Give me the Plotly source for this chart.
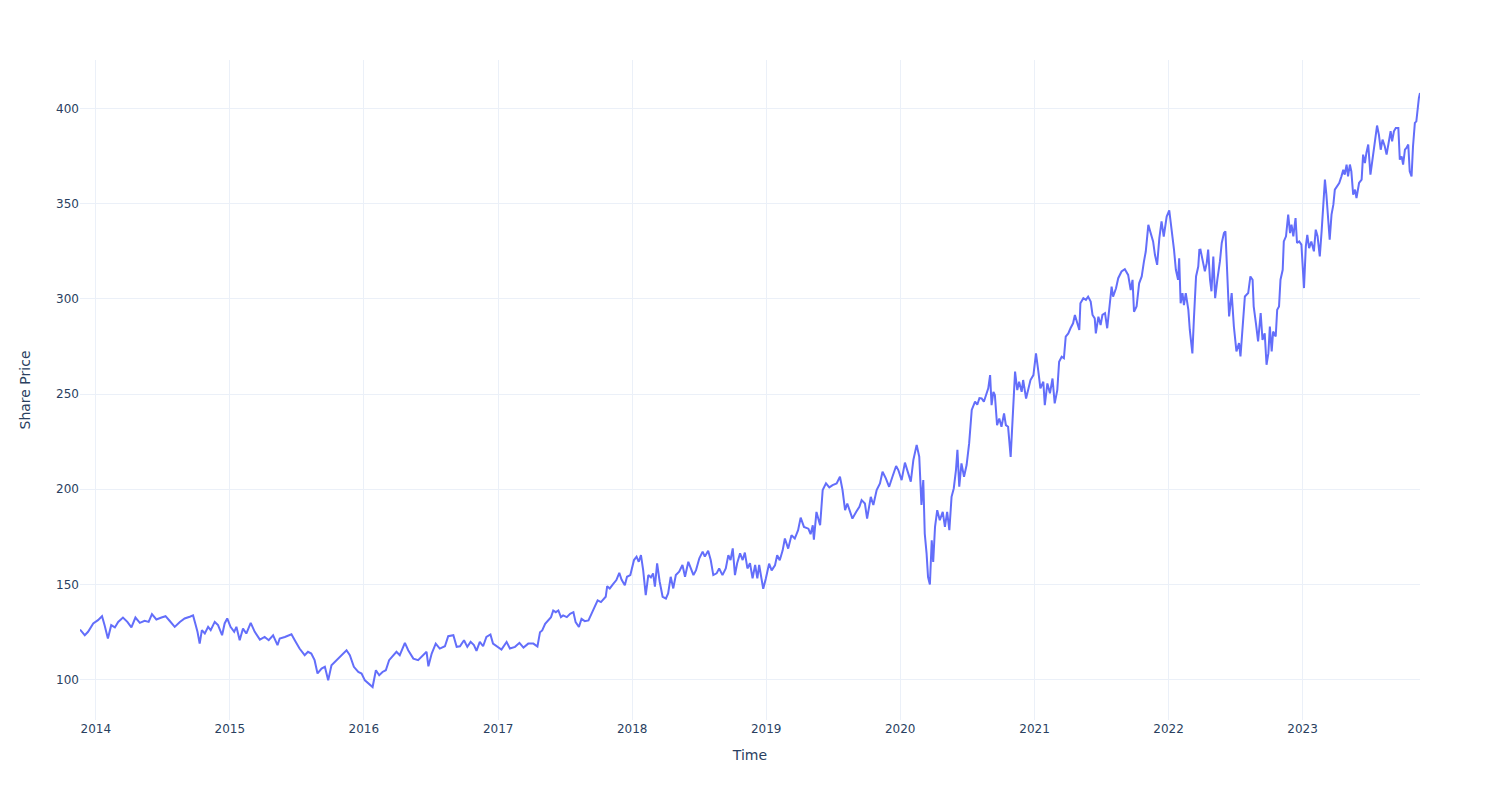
import plotly.graph_objects as go

dates = [
    "2013-11-19", "2013-12-02", "2013-12-11", "2013-12-25", "2014-01-07", "2014-01-18", "2014-01-25", "2014-02-03",
    "2014-02-12", "2014-02-22", "2014-03-03", "2014-03-16", "2014-03-28", "2014-04-08", "2014-04-19", "2014-05-01",
    "2014-05-14", "2014-05-25", "2014-06-03", "2014-06-15", "2014-06-29", "2014-07-10", "2014-07-21", "2014-08-04",
    "2014-08-18", "2014-08-31", "2014-09-14", "2014-09-23", "2014-09-29", "2014-10-05", "2014-10-11", "2014-10-17",
    "2014-10-25", "2014-11-03", "2014-11-10", "2014-11-21", "2014-11-30", "2014-12-11", "2014-12-18", "2014-12-25",
    "2015-01-03", "2015-01-13", "2015-01-19", "2015-01-28", "2015-02-06", "2015-02-15", "2015-02-27", "2015-03-10",
    "2015-03-24", "2015-04-06", "2015-04-17", "2015-04-29", "2015-05-11", "2015-05-17", "2015-05-31", "2015-06-18",
    "2015-06-27", "2015-07-10", "2015-07-24", "2015-08-02", "2015-08-11", "2015-08-20", "2015-08-28",
    "2015-09-08", "2015-09-17", "2015-09-26", "2015-10-05", "2015-10-14", "2015-10-23", "2015-11-01", "2015-11-15",
    "2015-11-24", "2015-12-05", "2015-12-17", "2015-12-26", "2016-01-04", "2016-01-13", "2016-01-25", "2016-02-03",
    "2016-02-12", "2016-02-21", "2016-03-01", "2016-03-10", "2016-03-21", "2016-03-30", "2016-04-08", "2016-04-22",
    "2016-05-01", "2016-05-15", "2016-05-28", "2016-06-11", "2016-06-20", "2016-06-25", "2016-07-04", "2016-07-15",
    "2016-07-26", "2016-08-09", "2016-08-18", "2016-09-01", "2016-09-10", "2016-09-19", "2016-09-30", "2016-10-09",
    "2016-10-18", "2016-10-27", "2016-11-03", "2016-11-12", "2016-11-21", "2016-11-30", "2016-12-11", "2016-12-18",
    "2017-01-01", "2017-01-10", "2017-01-24", "2017-02-02", "2017-02-16", "2017-02-28", "2017-03-11", "2017-03-24",
    "2017-04-07", "2017-04-18", "2017-04-25",
    "2017-05-01", "2017-05-09", "2017-05-18", "2017-05-25", "2017-05-31", "2017-06-07", "2017-06-14", "2017-06-21",
    "2017-06-27", "2017-07-07", "2017-07-16", "2017-07-25", "2017-07-31", "2017-08-09", "2017-08-16", "2017-08-25",
    "2017-09-04", "2017-09-13", "2017-09-20", "2017-09-29", "2017-10-08", "2017-10-17",
    "2017-10-21", "2017-10-25", "2017-11-01", "2017-11-10", "2017-11-19", "2017-11-27", "2017-12-03", "2017-12-12",
    "2017-12-18", "2017-12-27", "2018-01-06", "2018-01-13", "2018-01-19", "2018-01-25", "2018-01-31", "2018-02-07",
    "2018-02-14", "2018-02-21", "2018-02-27", "2018-03-04", "2018-03-10", "2018-03-17", "2018-03-25", "2018-04-03",
    "2018-04-09", "2018-04-16", "2018-04-23", "2018-04-30", "2018-05-09", "2018-05-18", "2018-05-25", "2018-06-03",
    "2018-06-09", "2018-06-17", "2018-06-24", "2018-07-03", "2018-07-12", "2018-07-18", "2018-07-27", "2018-08-03",
    "2018-08-10", "2018-08-19", "2018-08-26", "2018-09-04", "2018-09-13", "2018-09-20", "2018-09-26", "2018-10-02",
    "2018-10-08", "2018-10-14", "2018-10-22", "2018-10-29", "2018-11-04", "2018-11-11", "2018-11-18", "2018-11-25",
    "2018-12-02", "2018-12-08", "2018-12-13",
    "2018-12-19", "2018-12-24", "2018-12-31", "2019-01-09", "2019-01-16", "2019-01-25", "2019-01-31", "2019-02-07",
    "2019-02-15", "2019-02-21", "2019-03-02", "2019-03-11", "2019-03-20", "2019-03-29", "2019-04-05", "2019-04-14",
    "2019-04-26", "2019-05-02", "2019-05-08", "2019-05-11", "2019-05-18", "2019-05-28", "2019-06-04", "2019-06-13",
    "2019-06-22", "2019-07-01", "2019-07-12", "2019-07-21", "2019-07-28", "2019-08-04", "2019-08-10", "2019-08-17",
    "2019-08-24", "2019-09-03", "2019-09-12", "2019-09-18", "2019-09-27", "2019-10-03", "2019-10-13", "2019-10-20",
    "2019-10-29", "2019-11-07", "2019-11-14", "2019-11-23", "2019-12-02", "2019-12-11", "2019-12-21", "2019-12-27",
    "2020-01-05", "2020-01-14", "2020-01-23", "2020-01-30", "2020-02-06", "2020-02-15", "2020-02-22", "2020-02-28",
    "2020-03-04", "2020-03-08", "2020-03-13", "2020-03-17", "2020-03-22", "2020-03-27", "2020-03-31", "2020-04-05",
    "2020-04-11", "2020-04-18", "2020-04-26", "2020-05-02", "2020-05-08", "2020-05-14", "2020-05-20", "2020-05-26",
    "2020-06-01", "2020-06-05", "2020-06-10", "2020-06-16", "2020-06-23", "2020-06-30", "2020-07-07", "2020-07-14",
    "2020-07-23", "2020-07-29", "2020-08-04",
    "2020-08-10", "2020-08-16", "2020-08-23", "2020-08-28", "2020-09-02", "2020-09-06", "2020-09-11", "2020-09-15",
    "2020-09-21", "2020-09-27", "2020-10-03", "2020-10-10", "2020-10-15", "2020-10-21", "2020-10-28", "2020-11-02",
    "2020-11-09", "2020-11-15", "2020-11-20", "2020-11-27", "2020-12-01", "2020-12-09", "2020-12-15", "2020-12-21",
    "2020-12-29", "2021-01-05", "2021-01-11", "2021-01-17", "2021-01-25", "2021-01-29", "2021-02-05", "2021-02-12",
    "2021-02-19", "2021-02-25", "2021-03-04", "2021-03-09", "2021-03-16", "2021-03-22", "2021-03-27", "2021-04-03",
    "2021-04-09", "2021-04-16", "2021-04-21", "2021-04-27", "2021-05-03", "2021-05-06", "2021-05-14", "2021-05-21",
    "2021-05-27", "2021-06-03", "2021-06-08", "2021-06-14", "2021-06-17", "2021-06-24", "2021-06-30", "2021-07-05",
    "2021-07-12", "2021-07-18", "2021-07-24", "2021-07-30", "2021-08-03", "2021-08-11", "2021-08-17", "2021-08-26",
    "2021-09-04", "2021-09-13", "2021-09-20", "2021-09-25", "2021-09-29", "2021-10-06", "2021-10-13", "2021-10-20",
    "2021-10-26", "2021-10-31", "2021-11-07", "2021-11-13", "2021-11-20", "2021-11-25", "2021-12-01", "2021-12-07",
    "2021-12-13", "2021-12-19", "2021-12-27", "2022-01-03", "2022-01-09", "2022-01-16", "2022-01-21", "2022-01-27",
    "2022-01-30", "2022-02-03", "2022-02-08", "2022-02-12", "2022-02-17", "2022-02-24", "2022-02-28", "2022-03-07",
    "2022-03-11", "2022-03-17", "2022-03-23", "2022-03-26",
    "2022-03-29", "2022-04-04", "2022-04-10", "2022-04-15", "2022-04-19", "2022-04-24", "2022-04-28", "2022-05-03",
    "2022-05-08", "2022-05-14", "2022-05-21", "2022-05-26", "2022-06-01", "2022-06-05", "2022-06-10", "2022-06-15",
    "2022-06-22", "2022-06-28", "2022-07-05", "2022-07-12", "2022-07-16", "2022-07-22", "2022-07-28", "2022-08-06",
    "2022-08-12", "2022-08-18", "2022-08-21", "2022-08-27", "2022-09-02", "2022-09-09", "2022-09-14", "2022-09-20",
    "2022-09-25", "2022-09-30", "2022-10-04", "2022-10-09", "2022-10-13", "2022-10-20", "2022-10-24", "2022-10-29",
    "2022-11-02", "2022-11-08", "2022-11-11", "2022-11-17", "2022-11-23", "2022-11-28", "2022-12-02", "2022-12-07",
    "2022-12-13", "2022-12-17", "2022-12-23", "2022-12-29", "2023-01-05", "2023-01-10", "2023-01-14", "2023-01-19",
    "2023-01-25", "2023-02-01", "2023-02-06", "2023-02-11", "2023-02-17", "2023-02-22", "2023-02-26", "2023-03-03",
    "2023-03-07", "2023-03-12", "2023-03-16", "2023-03-21", "2023-03-26", "2023-03-30", "2023-04-04", "2023-04-11",
    "2023-04-17", "2023-04-22", "2023-04-26", "2023-05-01", "2023-05-05", "2023-05-10", "2023-05-14", "2023-05-19",
    "2023-05-24", "2023-05-28", "2023-06-04", "2023-06-11", "2023-06-15", "2023-06-20", "2023-06-24", "2023-06-29",
    "2023-07-05", "2023-07-11", "2023-07-17", "2023-07-23", "2023-07-28", "2023-08-02", "2023-08-07", "2023-08-13",
    "2023-08-18", "2023-08-22", "2023-08-29", "2023-09-02", "2023-09-07", "2023-09-12", "2023-09-19", "2023-09-23",
    "2023-09-28", "2023-10-02", "2023-10-07", "2023-10-11", "2023-10-16", "2023-10-20", "2023-10-25", "2023-10-29",
    "2023-11-03", "2023-11-07", "2023-11-10", "2023-11-14", "2023-11-17",
]

prices = [
    126.3, 123.3, 125.1, 129.5, 131.2, 133.3, 128.6, 121.6,
    128.6, 127.4, 130.3, 132.6, 130.3, 127.4, 132.6, 129.8,
    130.9, 130.3, 134.4, 131.6, 132.6, 133.3, 130.9, 127.7,
    130.3, 132.1, 133.0, 133.7, 129.5, 125.1, 118.9, 126.0,
    124.2, 127.7, 126.0, 130.3, 128.6, 123.3, 129.5, 132.1,
    127.7, 125.1, 127.7, 120.7, 126.8, 124.2, 129.8, 125.1,
    121.0, 122.4, 120.7, 123.3, 118.1, 121.6, 122.4, 123.8,
    120.7, 116.3, 112.8, 114.6, 113.7, 110.2, 103.2,
    105.8, 106.7, 99.6, 107.5, 109.3, 111.0, 112.8, 115.4,
    112.8, 106.7, 104.0, 103.2, 99.6, 97.9, 96.1, 104.9,
    102.3, 104.0, 104.9, 110.2, 112.8, 114.6, 112.8, 119.3,
    115.4, 111.0, 110.2, 112.8, 114.6, 107.0, 113.7, 118.9,
    116.3, 117.5, 122.8, 123.3, 117.2, 117.5, 120.7, 117.2,
    119.8, 118.1, 115.1, 119.8, 117.5, 122.4, 123.7, 118.9,
    117.2, 115.8, 119.8, 116.3, 117.2, 119.3, 116.8, 118.9,
    118.9, 117.4, 124.9,
    125.8, 129.3, 131.1, 132.8, 136.3, 135.4, 136.3, 132.8,
    133.7, 132.8, 134.6, 135.4, 130.2, 127.6, 131.9, 130.7,
    131.1, 134.6, 138.1, 141.6, 140.7, 142.5,
    143.5, 149.1, 147.9, 150.2, 152.3, 156.1, 152.6, 149.6,
    154.0, 154.9, 162.8, 164.6, 161.9, 165.4, 157.5, 144.4,
    154.9, 153.7, 155.8, 148.8, 161.1, 151.4, 143.5, 142.6,
    145.3, 154.0, 147.9, 154.9, 156.7, 160.2, 154.0, 161.9,
    159.3, 154.9, 157.5, 163.7, 167.2, 164.6, 167.7, 162.8,
    154.9, 155.8, 158.4, 154.9, 158.4, 165.4, 162.8, 168.9,
    154.9, 161.1, 166.3, 162.8, 166.7, 158.4, 161.1, 153.2,
    160.2, 153.2, 160.2,
    153.9, 147.7, 153.0, 160.9, 157.4, 160.0, 165.3, 162.7,
    167.9, 174.1, 168.8, 175.8, 174.1, 178.5, 185.1, 180.2,
    179.3, 176.4, 181.1, 173.5, 188.1, 181.1, 199.6, 203.1,
    201.0, 202.2, 203.1, 206.6, 199.6, 189.0, 192.5, 188.1,
    184.6, 188.1, 190.8, 194.3, 192.5, 184.6, 196.0, 191.7,
    199.6, 203.1, 209.2, 205.7, 201.3, 206.6, 212.2, 210.1,
    204.8, 214.0, 208.3, 204.0, 215.4, 223.3, 217.1, 191.7,
    204.8, 176.7, 166.2, 153.9, 150.0, 173.2, 161.8, 180.2,
    189.0, 183.7, 188.1, 180.2, 188.1, 178.5, 196.0, 200.4,
    210.1, 220.7, 201.3, 213.6, 206.6, 212.7, 224.2, 241.7,
    246.1, 244.4, 247.9,
    247.7, 246.0, 250.4, 253.0, 260.0, 244.2, 251.2, 249.5,
    233.7, 237.2, 232.8, 239.8, 233.7, 232.8, 217.0, 234.6,
    261.8, 252.1, 256.5, 251.2, 257.4, 247.7, 252.1, 257.4,
    260.0, 271.4, 262.6, 253.0, 256.5, 244.2, 255.6, 250.4,
    258.2, 245.1, 252.1, 267.0, 269.6, 268.8, 280.2, 281.9,
    284.6, 287.2, 291.6, 288.1, 283.7, 297.7, 300.4, 299.5,
    301.2, 298.6, 291.6, 289.8, 281.9, 290.7, 286.3, 291.6,
    292.5, 284.6, 296.8, 306.5, 301.2, 305.6, 310.9, 314.4,
    315.6, 312.6, 304.7, 310.0, 293.3, 296.0, 308.2, 311.8,
    319.6, 324.9, 338.9, 335.4, 330.2, 323.2, 317.9, 331.9,
    340.7, 332.8, 343.3, 346.5, 338.1, 325.8, 315.3, 310.0,
    321.4, 297.7, 303.0, 296.8, 303.0, 294.2, 283.7, 271.4,
    288.9, 311.8, 317.0, 325.8,
    325.9, 319.7, 314.5, 318.8, 325.9, 310.1, 304.0, 322.3,
    300.4, 310.1, 319.7, 329.4, 334.6, 335.5, 311.8, 290.8,
    303.1, 285.5, 272.4, 276.8, 269.8, 285.5, 301.3, 303.1,
    311.8, 310.1, 296.1, 287.3, 277.7, 292.6, 278.5, 282.0,
    265.4, 271.5, 285.5, 272.4, 282.9, 280.3, 294.3, 296.1,
    310.1, 315.3, 330.2, 332.9, 344.3, 334.6, 339.0, 332.9,
    342.5, 329.4, 330.2, 328.5, 305.7, 327.6, 333.7, 326.7,
    330.2, 325.0, 336.4, 332.9, 322.3, 335.5, 347.8, 362.7,
    354.8, 340.8, 331.1, 344.3, 349.5, 357.4, 359.2, 360.9,
    364.4, 367.9, 365.3, 370.6, 364.4, 370.6, 367.0, 354.8,
    357.4, 353.0, 360.9, 362.7, 375.8, 371.4, 376.7, 381.1,
    365.3, 373.2, 383.7, 391.1, 386.3, 378.4, 383.7, 380.2,
    375.8, 380.2, 388.1, 382.8, 388.1, 389.8, 389.8, 373.2,
    374.9, 370.6, 378.4, 379.3, 381.1, 367.0, 364.4, 380.2,
    392.5, 393.3, 399.5, 405.6, 408.2,
]

x_title = "Time"
y_title = "Share Price"

fig = go.Figure(
    go.Scatter(x=dates, y=prices, mode="lines", line=dict(color="#636efa", width=2), showlegend=False)
)
fig.update_layout(
    template="plotly_white",
    width=1500,
    height=800,
    font=dict(family="DejaVu Sans, Verdana, sans-serif"),
    margin=dict(l=80, r=80, t=60, b=80),
    xaxis=dict(title=dict(text=x_title)),
    yaxis=dict(title=dict(text=y_title, standoff=22)),
)
fig.write_html("out.html")
